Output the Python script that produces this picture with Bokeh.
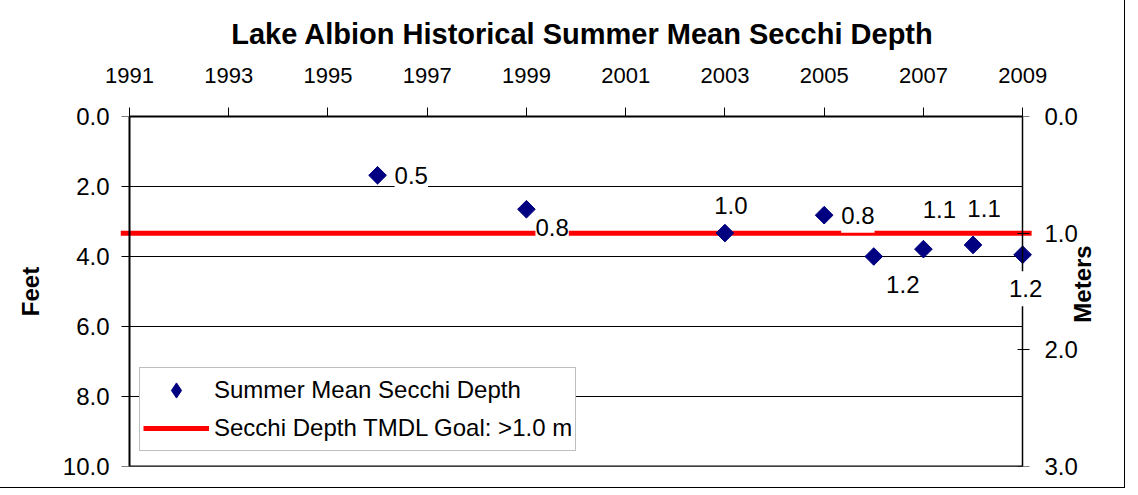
import math
from bokeh.plotting import figure
from bokeh.models import (Range1d, LinearAxis, FixedTicker, PrintfTickFormatter,
                          Label, Legend, LegendItem)
from bokeh.embed import file_html
from bokeh.resources import INLINE

# ---------------- data ----------------
years = [1996, 1999, 2003, 2005, 2006, 2007, 2008, 2009]
depth_ft = [1.68, 2.65, 3.33, 2.82, 4.00, 3.79, 3.67, 3.95]
depth_labels = ["0.5", "0.8", "1.0", "0.8", "1.2", "1.1", "1.1", "1.2"]
year_ticks = [1991, 1993, 1995, 1997, 1999, 2001, 2003, 2005, 2007, 2009]
feet_ticks = [0, 2, 4, 6, 8, 10]
meter_ticks = [0, 1, 2, 3]
goal_m = 1.0

# ---------------- styling / placement ----------------
label_offsets = [(17, 0, "left"), (9, -18, "left"), (6, 28, "center"), (17, 0, "left"),
                 (29, -28, "center"), (16, 40, "center"), (11, 36, "center"), (3, -34, "center")]
FONT = "Liberation Sans"
NAVY = "#000080"
RED = "#FF0000"
PAD_LEFT_YR = 0.18    # frame extends a little beyond the year axis (room for marks)
PAD_RIGHT_YR = 0.44
GOAL_OVERHANG_YR = 0.18
METERS_TITLE_BOTTOM_FT = 5.89   # where the rotated "Meters" title starts (bottom end)

x0, x1 = year_ticks[0], year_ticks[-1]

p = figure(width=1124, height=487,
           x_range=Range1d(x0 - PAD_LEFT_YR, x1 + PAD_RIGHT_YR),
           y_range=Range1d(feet_ticks[-1], feet_ticks[0]),
           x_axis_location="above", y_axis_location=None,
           output_backend="svg", toolbar_location=None,
           min_border_left=120, min_border_right=80,
           min_border_top=116, min_border_bottom=21)
p.extra_y_ranges = {"m": Range1d(meter_ticks[-1], meter_ticks[0])}
p.background_fill_color = "white"
p.border_fill_color = "white"
p.outline_line_color = None
p.styles = {"outline": "1px solid black"}
p.grid.visible = False

# title
p.title.text = "Lake Albion Historical Summer Mean Secchi Depth"
p.title.align = "center"
p.title.text_font = FONT
p.title.text_font_size = "29px"
p.title.text_font_style = "bold"
p.title.text_color = "black"
p.title.standoff = 29

# top axis (years)
xa = p.xaxis[0]
xa.ticker = FixedTicker(ticks=year_ticks)
xa.bounds = (x0, x1)
xa.major_label_text_font = FONT
xa.major_label_text_font_size = "22px"
xa.major_label_text_color = "black"
xa.major_tick_out = 9
xa.major_tick_in = 0
xa.minor_tick_out = 0
xa.minor_tick_in = 0
xa.axis_line_width = 2
xa.axis_line_color = "black"
xa.major_tick_line_color = "black"
xa.major_label_standoff = 25


def plain(axis):
    axis.minor_tick_out = 0
    axis.minor_tick_in = 0
    axis.axis_line_color = "black"
    axis.major_tick_line_color = "black"


def bare(axis):
    axis.axis_line_color = None
    axis.major_tick_line_color = None
    axis.minor_tick_line_color = None
    axis.major_tick_out = 0
    axis.major_tick_in = 0
    axis.minor_tick_out = 0
    axis.minor_tick_in = 0


# bottom frame line
ba = LinearAxis(ticker=FixedTicker(ticks=[]), bounds=(x0, x1), fixed_location=feet_ticks[-1])
plain(ba)
ba.axis_line_width = 2
ba.major_tick_out = 0
p.add_layout(ba, "below")

# left axis line + ticks at 1991
yl = LinearAxis(ticker=FixedTicker(ticks=feet_ticks), fixed_location=x0,
                major_label_text_alpha=0)
plain(yl)
yl.axis_line_width = 2
yl.major_tick_out = 8
yl.major_tick_in = 0
p.add_layout(yl, "left")

# left axis labels (feet)
ya = LinearAxis(ticker=FixedTicker(ticks=feet_ticks),
                formatter=PrintfTickFormatter(format="%.1f"), axis_label="Feet")
bare(ya)
ya.axis_label_text_font = FONT
ya.axis_label_text_font_size = "24px"
ya.axis_label_text_font_style = "bold"
ya.axis_label_text_color = "black"
ya.axis_label_standoff = 16
ya.major_label_text_font = FONT
ya.major_label_text_font_size = "24px"
ya.major_label_text_color = "black"
ya.major_label_standoff = 11
p.add_layout(ya, "left")

# right axis line + ticks at 2009 (meters)
rl = LinearAxis(y_range_name="m", ticker=FixedTicker(ticks=meter_ticks), fixed_location=x1,
                major_label_text_alpha=0)
plain(rl)
rl.axis_line_width = 1.5
rl.major_tick_out = 7
rl.major_tick_in = 5
p.add_layout(rl, "right")

# right axis labels (meters)
ra = LinearAxis(y_range_name="m", ticker=FixedTicker(ticks=meter_ticks),
                formatter=PrintfTickFormatter(format="%.1f"))
bare(ra)
ra.major_label_text_font = FONT
ra.major_label_text_font_size = "24px"
ra.major_label_text_color = "black"
ra.major_label_standoff = 0
p.add_layout(ra, "right")

# right axis title, rotated to read bottom-to-top
rt = LinearAxis(ticker=FixedTicker(ticks=[METERS_TITLE_BOTTOM_FT]),
                major_label_overrides={METERS_TITLE_BOTTOM_FT: "Meters"})
bare(rt)
rt.major_label_orientation = math.pi / 2
rt.major_label_text_font = FONT
rt.major_label_text_font_size = "24px"
rt.major_label_text_font_style = "bold"
rt.major_label_text_color = "black"
rt.major_label_standoff = 2
p.add_layout(rt, "right")

# horizontal grid lines (feet)
p.segment(x0=x0, x1=x1, y0=feet_ticks, y1=feet_ticks, line_color="black", line_width=1)

# goal line (meters, on secondary axis)
r_goal = p.line([x0 - GOAL_OVERHANG_YR, x1 + GOAL_OVERHANG_YR], [goal_m, goal_m],
                y_range_name="m", line_color=RED, line_width=5)

# points: a diamond glyph (used as legend swatch) covered by the 45-degree squares
r_diam = p.scatter(years, depth_ft, marker="diamond", size=16,
                   fill_color=NAVY, line_color=NAVY)
r_pts = p.scatter(years, depth_ft, marker="square", angle=math.pi / 4, size=12.5,
                  fill_color=NAVY, line_color=NAVY)

# data labels
for yr, d, txt, (dx, dy, al) in zip(years, depth_ft, depth_labels, label_offsets):
    p.add_layout(Label(x=yr, y=d, text=txt, x_offset=dx, y_offset=dy,
                       text_align=al, text_baseline="middle",
                       text_font=FONT, text_font_size="24px", text_color="black",
                       background_fill_color="white", padding=(0, 9), level="overlay"))

legend = Legend(items=[LegendItem(label="Summer Mean Secchi Depth", renderers=[r_diam]),
                       LegendItem(label="Secchi Depth TMDL Goal: >1.0 m", renderers=[r_goal])],
                location=(19, 15))
legend.label_text_font = FONT
legend.label_text_font_size = "24px"
legend.label_text_color = "black"
legend.border_line_color = "#808080"
legend.border_line_width = 1
legend.background_fill_color = "white"
legend.background_fill_alpha = 1
legend.glyph_width = 66
legend.glyph_height = 38
legend.label_height = 38
legend.spacing = 0
legend.padding = 3
legend.margin = 0
legend.label_standoff = 5
p.add_layout(legend)

open("out.html", "w").write(file_html(p, INLINE))
